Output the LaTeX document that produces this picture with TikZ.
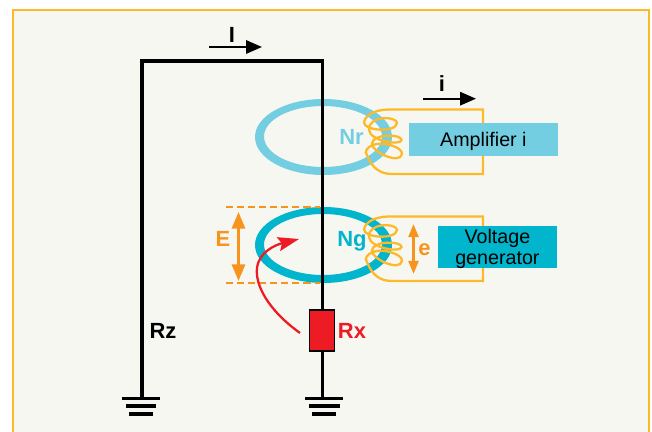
\documentclass[tikz,border=0pt]{standalone}
\usepackage{fontspec}
\setmainfont{Liberation Sans}
\usepackage{tikz}
\usetikzlibrary{arrows.meta, positioning}
\definecolor{paper}{HTML}{F7F7F2}
\definecolor{frameyellow}{HTML}{FDB927}
\definecolor{ampblue}{HTML}{74CEE2}
\definecolor{genblue}{HTML}{00B5CC}
\definecolor{elecorange}{HTML}{F7941E}
\definecolor{rxred}{HTML}{ED1C24}
\tikzstyle{wire} = [line width=2.2pt, black]
\tikzstyle{winding} = [line width=1.3pt, frameyellow]
\tikzstyle{current} = [line width=1.2pt, -{Triangle[length=9pt, width=7.5pt]}]
\tikzstyle{tag} = [font=\bfseries\fontsize{12.5}{14}\selectfont, inner sep=0pt]
\tikzstyle{box} = [font=\fontsize{11.2}{12}\selectfont, align=center, inner sep=0pt, text=black]
\tikzstyle{span} = [line width=1.5pt, elecorange, {Triangle[length=9.5pt, width=7.5pt]}-{Triangle[length=9.5pt, width=7.5pt]}]
\tikzstyle{smallspan} = [line width=1.4pt, elecorange, {Triangle[length=7.5pt, width=5.7pt]}-{Triangle[length=7.5pt, width=5.7pt]}]
\tikzstyle{earth} = [line width=1.9pt, black]
\tikzstyle{level} = [line width=1.2pt, elecorange, dash pattern=on 4pt off 2.3pt]

\begin{document}
\begin{tikzpicture}[x=0.02cm, y=-0.02cm]
	\useasboundingbox (0, 0) rectangle (652, 432);
	\fill [paper] (13, 10) rectangle (649, 432);
	\draw [line width=1.1pt, frameyellow] (13, 432) -- (13, 10) -- (649, 10) -- (649, 432);

	% cores
	\fill [ampblue, even odd rule] (323.5, 137) ellipse [x radius=68.5, y radius=38]
		(323, 136.5) ellipse [x radius=59, y radius=30.5];
	\fill [genblue, even odd rule] (323.5, 245) ellipse [x radius=68.5, y radius=38]
		(323, 244.5) ellipse [x radius=59, y radius=30.5];

	% secondary circuits
	\foreach \cy in {0, 107} {
		\draw [winding, yshift=\cy*-0.02cm] (483, 142) -- (483, 109.5) -- (388, 109.5)
			.. controls (376, 110) and (366, 114) .. (364, 122)
			.. controls (363, 131) and (396, 133) .. (397, 123)
			.. controls (397, 116) and (368, 115) .. (369, 130)
			.. controls (370, 141) and (401, 146) .. (401.5, 140)
			.. controls (402, 134) and (372, 133) .. (372, 144)
			.. controls (372, 152) and (400, 165) .. (402, 154)
			.. controls (403, 147) and (382, 141) .. (373, 145)
			.. controls (367, 147) and (364, 152) .. (367, 155)
			.. controls (372, 168) and (380, 174) .. (392, 174)
			-- (483, 174) -- (483, 142);
	}

	\node (Nr) [tag, text=ampblue] at (351.5, 137) {Nr};
	\node (Ng) [tag, text=genblue] at (352, 241) {Ng};

	\node (Amp) [box, fill=ampblue, minimum width=148.7*0.02cm, minimum height=32.7*0.02cm] at (483.4, 139.6) {\rule{0pt}{10.4pt}Amplifier i};
	\node (Gen) [box, fill=genblue, minimum width=118.7*0.02cm, minimum height=40.7*0.02cm] at (497.4, 247.3) {\rule{0pt}{9.5pt}Voltage\\generator};

	% main loop
	\node (Rx) [draw=black, line width=0.8pt, fill=rxred, inner sep=0pt, minimum width=25*0.02cm, minimum height=41*0.02cm] at (322, 330.5) {};
	\coordinate (GndZ) at (142, 398);
	\coordinate (GndX) at (322.5, 398);
	\coordinate (CornerL) at (142, 61);
	\coordinate (CornerR) at (322.5, 61);
	\draw [wire] (GndZ) -- (CornerL) -- (CornerR) -- (Rx.north -| CornerR);
	\draw [wire] (Rx.south -| CornerR) -- (GndX);

	\draw [earth] (122, 398.5) -- (160, 398.5);
	\draw [earth] (126, 406) -- (156, 406);
	\draw [earth] (129, 414) -- (153, 414);
	\draw [earth] (305, 398.5) -- (343, 398.5);
	\draw [earth] (309, 406) -- (340, 406);
	\draw [earth] (312, 414) -- (336, 414);

	\node (RzLabel) [tag] at (163, 331) {Rz};
	\node (RxLabel) [tag, text=rxred] at (352, 331) {Rx};

	% currents
	\coordinate (IStart) at (209, 47);
	\coordinate (IEnd) at (262, 47);
	\draw [current] (IStart) -- (IEnd);
	\node (ILabel) [tag] at (232, 34.5) {I};
	\coordinate (iStart) at (423, 98.7);
	\coordinate (iEnd) at (476, 98.7);
	\draw [current] (iStart) -- (iEnd);
	\node (iLabel) [tag] at (442, 84) {i};

	% voltages
	\draw [level] (226, 207) -- (320, 207);
	\draw [level] (226, 283) -- (320, 283);
	\coordinate (ETop) at (238.5, 212);
	\coordinate (EBot) at (238.5, 281);
	\draw [span] (ETop) -- (EBot);
	\node (ELabel) [tag, text=elecorange] at (223, 239) {E};
	\coordinate (eTop) at (413.5, 224);
	\coordinate (eBot) at (413.5, 274);
	\draw [smallspan] (eTop) -- (eBot);
	\node (eLabel) [tag, text=elecorange] at (424.5, 250) {e};

	% field
	\coordinate (FieldEnd) at (299, 239);
	\draw [line width=1.3pt, rxred, -{Stealth[length=12pt, width=8pt, inset=2pt]}] (300, 333) .. controls (268, 310) and (255, 285) .. (257, 268) .. controls (259, 252) and (275, 245) .. (FieldEnd);
\end{tikzpicture}
\end{document}
